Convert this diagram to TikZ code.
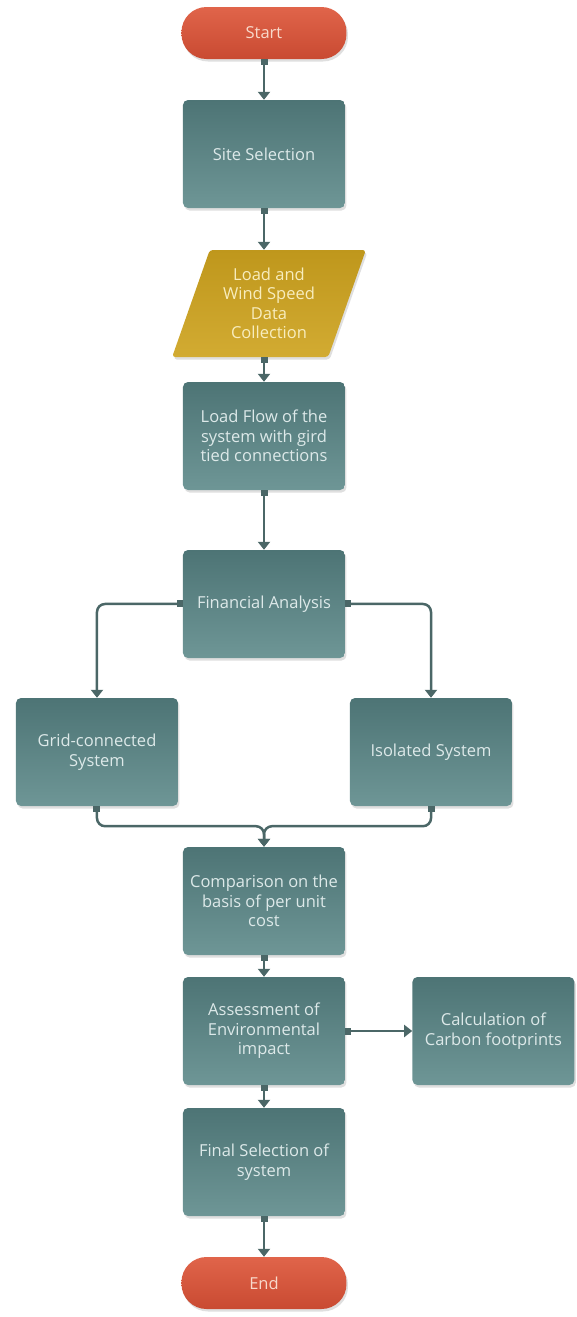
\documentclass[tikz,border=0pt]{standalone}
\usepackage{fontspec}
\setmainfont{Open Sans}
\usetikzlibrary{positioning,shapes.geometric,arrows.meta,shadows}
\definecolor{boxtop}{HTML}{4D7475}
\definecolor{boxbot}{HTML}{6E9696}
\definecolor{termtop}{HTML}{E0644A}
\definecolor{termbot}{HTML}{C94A32}
\definecolor{datatop}{HTML}{BF971C}
\definecolor{databot}{HTML}{D2AB32}
\definecolor{wire}{HTML}{4B6767}
\definecolor{boxtext}{HTML}{DDE9E9}
\definecolor{termtext}{HTML}{F8D9CB}
\definecolor{datatext}{HTML}{F8EDBE}
\begin{document}
\begin{tikzpicture}[
   font=\fontsize{16.5}{19.5}\selectfont,
   every matrix/.style={ampersand replacement=\&,column sep={167pt,between origins},row sep=22pt},
   soft/.style={drop shadow={shadow xshift=1.5pt,shadow yshift=-2.5pt,opacity=.18,fill=black!70}},
   stepbox/.style={rectangle,rounded corners=5pt,top color=boxtop,bottom color=boxbot,text=boxtext,align=center,minimum width=162pt,minimum height=108pt,inner sep=4pt,soft},
   terminal/.style={rectangle,rounded corners=25pt,top color=termtop,bottom color=termbot,text=termtext,minimum width=165pt,minimum height=52pt,soft},
   io/.style={trapezium,trapezium left angle=68,trapezium right angle=112,trapezium stretches=true,rounded corners=3pt,top color=datatop,bottom color=databot,text=datatext,align=center,minimum width=194pt,minimum height=107pt,inner sep=2pt,soft},
   link/.style={{Square[length=6pt,width=7pt]}-{Triangle[width=12pt,length=8pt]},line width=2.5pt,draw=wire,rounded corners=8pt}]
\matrix{
\&\node[terminal] (start) {Start};\&\\[19pt]
\&\node[stepbox] (site) {Site Selection};\&\\[20pt]
\&\node[io,xshift=5pt] (data) {Load and\\Wind Speed\\Data\\Collection};\&\\[3pt]
\&\node[stepbox] (flow) {Load Flow of the\\system with gird\\tied connections};\&\\[38pt]
\&\node[stepbox] (fin) {Financial Analysis};\&\\[18pt]
\node[stepbox] (grid) {Grid-connected\\System};\&\&\node[stepbox] (iso) {Isolated System};\\[19pt]
\&\node[stepbox] (comp) {Comparison on the\\basis of per unit\\cost};\&\\
\&\node[stepbox] (env) {Assessment of\\Environmental\\impact};\&\\[1pt]
\&\node[stepbox] (final) {Final Selection of\\system};\&\\[19pt]
\&\node[terminal] (stop) {End};\&\\
};
\node[stepbox,right=67pt of env] (carbon) {Calculation of\\Carbon footprints};
\draw[link] (start.south) -- (site.north);
\draw[link] (site.south) -- (site.south |- data.north);
\draw[link] (flow.north |- data.south) -- (flow.north);
\draw[link] (flow.south) -- (fin.north);
\draw[link] (fin.west) -| (grid.north);
\draw[link] (fin.east) -| (iso.north);
\draw[link] (grid.south) -- ++(0,-20pt) -| (comp.north);
\draw[link] (iso.south) -- ++(0,-20pt) -| (comp.north);
\draw[link] (comp.south) -- (env.north);
\draw[link] (env.east) -- (carbon.west);
\draw[link] (env.south) -- (final.north);
\draw[link] (final.south) -- (stop.north);
\pgfresetboundingbox
\useasboundingbox ([xshift=-264pt,yshift=33pt]start.center) rectangle ++(577pt,-1317pt);
\end{tikzpicture}
\end{document}
